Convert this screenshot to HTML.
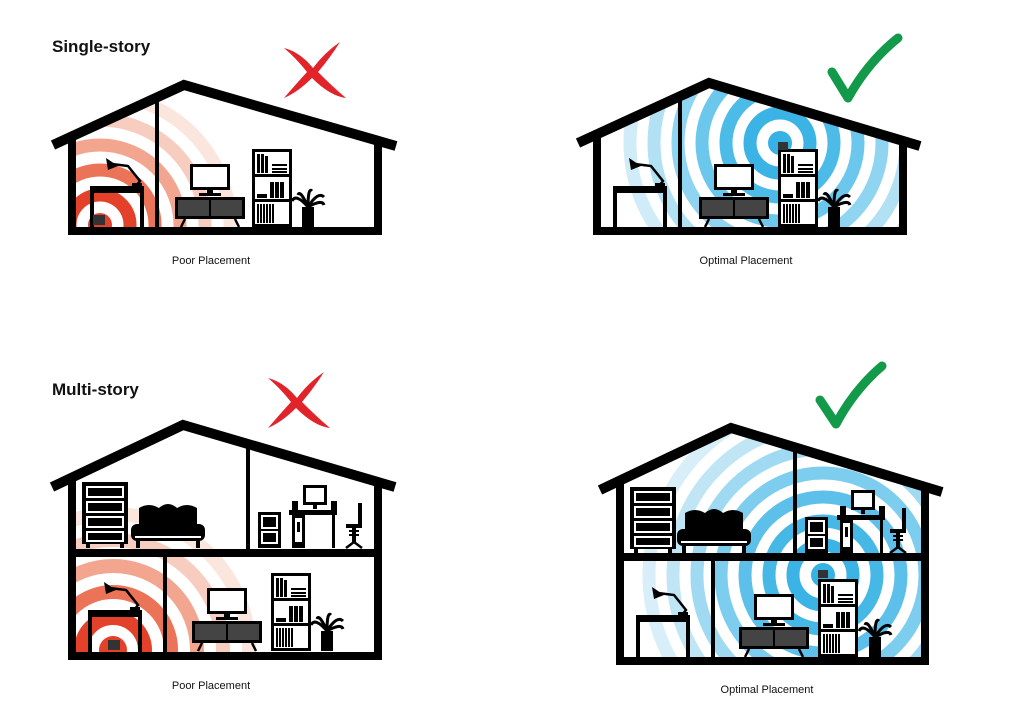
<!DOCTYPE html>
<html><head><meta charset="utf-8"><style>
html,body{margin:0;padding:0;background:#fff;width:1024px;height:707px;overflow:hidden;}
svg{display:block;}
text{font-family:"Liberation Sans",sans-serif;}
</style></head><body>
<svg width="1024" height="707" viewBox="0 0 1024 707" xmlns="http://www.w3.org/2000/svg">
<defs>
<clipPath id="c1"><polygon points="72,140 184,88 380,145 380,230 72,230"/></clipPath>
<clipPath id="c2"><polygon points="597,140 709,88 903,145 903,230 597,230"/></clipPath>
<clipPath id="c3"><polygon points="72,485 183,428 378,487 378,656 72,656"/></clipPath>
<clipPath id="c4"><polygon points="620,488 731,433 925,492 925,661 620,661"/></clipPath>

<g id="desk"><rect x="0" y="-42" width="54" height="7"/><rect x="0" y="-42" width="4" height="42"/><rect x="50" y="-42" width="4" height="42"/>
<path d="M46,-42 L50,-47 L38,-62 L22,-64" stroke="#000" stroke-width="2.5" fill="none"/><path d="M16,-70 L28,-62 L18,-58 Z"/><rect x="42" y="-45" width="10" height="3"/></g>
<g id="tv"><rect x="15" y="-63" width="40" height="26" fill="#000"/><rect x="18" y="-60" width="34" height="20" fill="#fff"/><rect x="32" y="-37" width="6" height="4"/><rect x="24" y="-34" width="22" height="3"/>
<rect x="0" y="-30" width="70" height="22"/><rect x="3" y="-27" width="31" height="16" fill="#444"/><rect x="36" y="-27" width="31" height="16" fill="#444"/>
<path d="M10,-8 L6,0 M60,-8 L64,0" stroke="#000" stroke-width="2.5"/></g>
<g id="shelf"><rect x="0" y="-78" width="40" height="78"/><rect x="3" y="-75" width="34" height="22" fill="#fff"/><rect x="3" y="-50" width="34" height="22" fill="#fff"/><rect x="3" y="-25" width="34" height="22" fill="#fff"/>
<rect x="5" y="-73" width="3" height="19"/><rect x="9" y="-73" width="3" height="19"/><rect x="13" y="-71" width="3" height="17"/><rect x="20" y="-63" width="15" height="2"/><rect x="20" y="-59" width="15" height="2"/><rect x="20" y="-56" width="15" height="2"/>
<rect x="18" y="-45" width="4" height="16"/><rect x="23" y="-45" width="4" height="16"/><rect x="28" y="-45" width="4" height="16"/><rect x="5" y="-33" width="10" height="4"/>
<rect x="5" y="-23" width="2" height="19"/><rect x="8" y="-23" width="2" height="19"/><rect x="11" y="-23" width="2" height="19"/><rect x="14" y="-23" width="2" height="19"/><rect x="17" y="-23" width="2" height="19"/><rect x="20" y="-23" width="2" height="19"/></g>
<g id="plant"><rect x="8" y="-20" width="12" height="20"/><path d="M14,-20 Q2,-34 -2,-26 M14,-20 Q6,-38 4,-32 M14,-20 Q14,-40 18,-36 M14,-20 Q24,-36 30,-30 M14,-20 Q28,-28 30,-22" stroke="#000" stroke-width="3" fill="none"/></g>
<g id="dresser"><rect x="0" y="-66" width="46" height="62"/><rect x="4" y="-62" width="38" height="12" fill="#fff"/><rect x="4" y="-47" width="38" height="12" fill="#fff"/><rect x="4" y="-32" width="38" height="12" fill="#fff"/><rect x="4" y="-17" width="38" height="11" fill="#fff"/>
<rect x="6" y="-60" width="34" height="8"/><rect x="6" y="-45" width="34" height="8"/><rect x="6" y="-30" width="34" height="8"/><rect x="6" y="-15" width="34" height="7"/><rect x="4" y="-4" width="4" height="4"/><rect x="38" y="-4" width="4" height="4"/></g>
<g id="bed"><path d="M8,-22 L8,-40 Q18,-46 28,-40 Q37,-48 46,-40 Q56,-46 66,-40 L66,-22 Z"/><rect x="0" y="-24" width="74" height="17" rx="6"/><rect x="4" y="-12" width="66" height="2" fill="#fff"/><rect x="5" y="-7" width="4" height="7"/><rect x="65" y="-7" width="4" height="7"/></g>
<g id="cab"><rect x="0" y="-36" width="23" height="36"/><rect x="3" y="-33" width="17" height="14" fill="#fff"/><rect x="3" y="-17" width="17" height="13" fill="#fff"/><rect x="5" y="-31" width="13" height="10"/><rect x="5" y="-15" width="13" height="9"/></g>
<g id="comp"><rect x="14" y="-63" width="24" height="20"/><rect x="17" y="-60" width="18" height="14" fill="#fff"/><rect x="24" y="-43" width="4" height="4"/><rect x="3" y="-47" width="6" height="9"/><rect x="42" y="-47" width="6" height="9"/>
<rect x="0" y="-38" width="48" height="5"/><rect x="3" y="-33" width="13" height="33"/><rect x="6" y="-30" width="7" height="24" fill="#fff"/><rect x="8" y="-26" width="3" height="10"/><rect x="43" y="-33" width="3" height="33"/></g>
<g id="chair"><rect x="14" y="-45" width="4" height="22"/><rect x="2" y="-24" width="16" height="4"/><rect x="8" y="-20" width="4" height="14"/><rect x="5" y="-18" width="10" height="2"/><rect x="5" y="-14" width="10" height="2"/><path d="M2,0 L10,-6 L18,0" stroke="#000" stroke-width="2.5" fill="none"/></g>
</defs>

<text x="52" y="52" font-size="17" font-weight="bold" fill="#111">Single-story</text>
<text x="52" y="395" font-size="17" font-weight="bold" fill="#111">Multi-story</text>

<g fill="#e0242a"><path d="M284,48 Q300,52 313,68 Q325,52 340,42 Q330,58 318,72 Q334,88 346,98 Q330,96 312,78 Q298,92 284,98 Q296,84 307,72 Q296,58 284,48 Z"/></g>
<g fill="#e0242a"><path d="M268,378 Q284,382 297,398 Q309,382 324,372 Q314,388 302,402 Q318,418 330,428 Q314,426 296,408 Q282,422 268,428 Q280,414 291,402 Q280,388 268,378 Z"/></g>
<path d="M832,72 L848,98 Q868,62 898,38" stroke="#13994a" stroke-width="9" fill="none" stroke-linecap="round" stroke-linejoin="round"/>
<path d="M820,400 L836,424 Q854,390 882,366" stroke="#13994a" stroke-width="9" fill="none" stroke-linecap="round" stroke-linejoin="round"/>

<g clip-path="url(#c1)" fill="none">
<circle cx="100" cy="225" r="12" fill="#e4412b"/>
<circle cx="100" cy="225" r="30" stroke="#e4412b" stroke-width="13"/>
<circle cx="100" cy="225" r="55" stroke="#ea7358" stroke-width="13"/>
<circle cx="100" cy="225" r="80" stroke="#f2a690" stroke-width="13"/>
<circle cx="100" cy="225" r="105" stroke="#f7cdbf" stroke-width="13"/>
<circle cx="100" cy="225" r="130" stroke="#fbe6de" stroke-width="13"/>
</g>
<g clip-path="url(#c2)" fill="none">
<circle cx="780" cy="143" r="12" fill="#36b2e4"/>
<circle cx="780" cy="143" r="30" stroke="#3bb4e5" stroke-width="13"/>
<circle cx="780" cy="143" r="54" stroke="#4dbbe8" stroke-width="13"/>
<circle cx="780" cy="143" r="78" stroke="#6cc7ec" stroke-width="13"/>
<circle cx="780" cy="143" r="102" stroke="#8fd4f0" stroke-width="13"/>
<circle cx="780" cy="143" r="126" stroke="#b2e1f4" stroke-width="13"/>
<circle cx="780" cy="143" r="150" stroke="#d0ecf8" stroke-width="13"/>
</g>
<g clip-path="url(#c3)" fill="none">
<circle cx="113" cy="650" r="14" fill="#e4412b"/>
<circle cx="113" cy="650" r="32" stroke="#e4412b" stroke-width="14"/>
<circle cx="113" cy="650" r="58" stroke="#ea7358" stroke-width="14"/>
<circle cx="113" cy="650" r="84" stroke="#f2a690" stroke-width="14"/>
<circle cx="113" cy="650" r="110" stroke="#f7cdbf" stroke-width="14"/>
<circle cx="113" cy="650" r="136" stroke="#fbe6de" stroke-width="14"/>
</g>
<g clip-path="url(#c4)" fill="none">
<circle cx="823" cy="575" r="12" fill="#36b2e4"/>
<circle cx="823" cy="575" r="30" stroke="#3bb4e5" stroke-width="13"/>
<circle cx="823" cy="575" r="54" stroke="#45b8e6" stroke-width="13"/>
<circle cx="823" cy="575" r="78" stroke="#5cc0ea" stroke-width="13"/>
<circle cx="823" cy="575" r="102" stroke="#7dcdee" stroke-width="13"/>
<circle cx="823" cy="575" r="126" stroke="#a0daf2" stroke-width="13"/>
<circle cx="823" cy="575" r="150" stroke="#c0e6f6" stroke-width="13"/>
<circle cx="823" cy="575" r="174" stroke="#d8eff9" stroke-width="13"/>
</g>

<g stroke="#000" fill="none">
<polyline points="53,145 184,85 396,146" stroke-width="10"/>
<line x1="72" y1="136" x2="72" y2="234" stroke-width="8"/>
<line x1="378" y1="138" x2="378" y2="234" stroke-width="8"/>
<line x1="157" y1="100" x2="157" y2="230" stroke-width="4"/>
<line x1="68" y1="231" x2="382" y2="231" stroke-width="8"/>
</g>
<use href="#desk" x="90" y="228"/>
<rect x="93" y="215" width="12" height="10" fill="#333"/>
<use href="#tv" x="175" y="227"/>
<use href="#shelf" x="252" y="227"/>
<use href="#plant" x="294" y="227"/>

<g stroke="#000" fill="none">
<polyline points="578,143 709,83 920,146" stroke-width="10"/>
<line x1="597" y1="134" x2="597" y2="234" stroke-width="8"/>
<line x1="903" y1="140" x2="903" y2="234" stroke-width="8"/>
<line x1="680" y1="100" x2="680" y2="230" stroke-width="4"/>
<line x1="593" y1="231" x2="907" y2="231" stroke-width="8"/>
</g>
<use href="#desk" x="613" y="228"/>
<use href="#tv" x="699" y="227"/>
<use href="#shelf" x="778" y="227"/>
<rect x="778" y="142" width="10" height="8" fill="#333"/>
<use href="#plant" x="820" y="227"/>

<g stroke="#000" fill="none">
<polyline points="52,487 183,425 395,487" stroke-width="10"/>
<line x1="72" y1="478" x2="72" y2="660" stroke-width="8"/>
<line x1="378" y1="479" x2="378" y2="660" stroke-width="8"/>
<line x1="68" y1="553" x2="382" y2="553" stroke-width="8"/>
<line x1="248" y1="447" x2="248" y2="553" stroke-width="4"/>
<line x1="165" y1="553" x2="165" y2="656" stroke-width="4"/>
<line x1="68" y1="656" x2="382" y2="656" stroke-width="8"/>
</g>
<use href="#dresser" x="82" y="548"/>
<use href="#bed" x="131" y="548"/>
<use href="#cab" x="258" y="548"/>
<use href="#comp" x="289" y="548"/>
<use href="#chair" x="344" y="548"/>
<use href="#desk" x="88" y="652"/>
<rect x="108" y="640" width="12" height="10" fill="#333"/>
<use href="#tv" x="192" y="651"/>
<use href="#shelf" x="271" y="651"/>
<use href="#plant" x="313" y="651"/>

<g stroke="#000" fill="none">
<polyline points="600,490 731,428 942,492" stroke-width="10"/>
<line x1="620" y1="481" x2="620" y2="665" stroke-width="8"/>
<line x1="925" y1="485" x2="925" y2="665" stroke-width="8"/>
<line x1="616" y1="557" x2="929" y2="557" stroke-width="8"/>
<line x1="795" y1="450" x2="795" y2="557" stroke-width="4"/>
<line x1="713" y1="557" x2="713" y2="661" stroke-width="4"/>
<line x1="616" y1="661" x2="929" y2="661" stroke-width="8"/>
</g>
<use href="#dresser" x="630" y="553"/>
<use href="#bed" x="677" y="553"/>
<use href="#cab" x="805" y="553"/>
<use href="#comp" x="837" y="553"/>
<use href="#chair" x="888" y="553"/>
<use href="#desk" x="636" y="657"/>
<use href="#tv" x="739" y="657"/>
<use href="#shelf" x="818" y="657"/>
<rect x="818" y="570" width="10" height="8" fill="#333"/>
<use href="#plant" x="861" y="657"/>

<text x="211" y="264" font-size="11" text-anchor="middle" fill="#111">Poor Placement</text>
<text x="746" y="264" font-size="11" text-anchor="middle" fill="#111">Optimal Placement</text>
<text x="211" y="689" font-size="11" text-anchor="middle" fill="#111">Poor Placement</text>
<text x="767" y="693" font-size="11" text-anchor="middle" fill="#111">Optimal Placement</text>
</svg>
</body></html>
